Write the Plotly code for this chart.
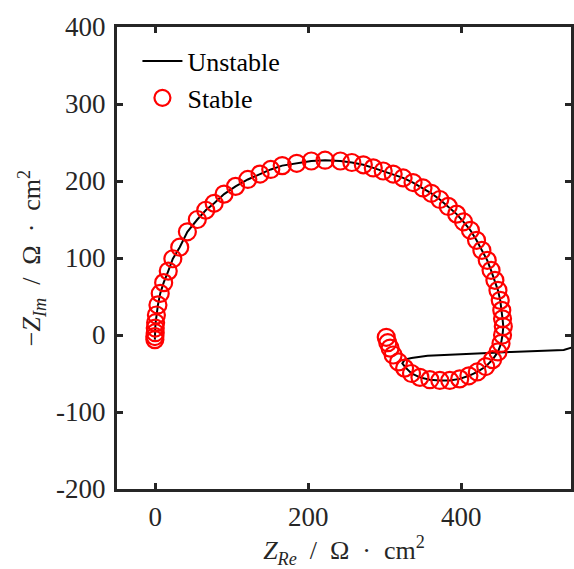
import plotly.graph_objects as go

# Stable (red circles)
stable_re = [-0.5, -0.5, 0, 0, 0.5, 1.5, 3.5, 6.5, 11, 17, 23, 32, 42, 55, 66, 77, 90, 105, 121, 137,
             151, 166, 185, 204, 222, 242, 257, 272, 285, 298, 311, 324, 337, 350, 361, 372, 383, 394, 403, 412,
             420, 427, 434, 439, 444, 448, 451, 453, 454, 455, 454, 452, 448, 441, 432, 421, 410, 398, 385, 372,
             359, 346, 335, 326, 318, 311, 307, 304, 302]
stable_im = [-6, -2, 3, 9, 16, 26, 39, 54, 68, 83, 99, 114, 134, 150, 162, 171, 183, 193, 202, 209,
             215, 220, 223, 226, 227, 226, 224, 221, 217, 213, 209, 204, 198, 191, 184, 176, 167, 157, 147, 136,
             123, 110, 97, 84, 71, 58, 45, 32, 21, 11, 0, -11, -22, -32, -41, -48, -53, -57, -59, -59,
             -58, -55, -50, -43, -35, -26, -17, -10, -3]

# Unstable (black line)
unstable_re = [-0.5, -0.5, 0, 0, 0.5, 1.5, 3.5, 6.5, 11, 17, 23, 32, 42, 55, 66, 77, 90, 105, 121, 137,
               151, 166, 185, 204, 222, 242, 257, 272, 285, 298, 311, 324, 337, 350, 361, 372, 383, 394, 403, 412,
               420, 427, 434, 439, 444, 448, 451, 453, 454, 455, 454, 452, 448, 441, 432, 421, 410, 398, 385, 372,
               359, 346, 335, 327, 323, 326, 335, 356, 390, 421, 465, 508, 534, 545, 560]
unstable_im = [-6, -2, 3, 9, 16, 26, 39, 54, 68, 83, 99, 114, 134, 150, 162, 171, 183, 193, 202, 209,
               215, 220, 223, 226, 227, 226, 224, 221, 217, 213, 209, 204, 198, 191, 184, 176, 167, 157, 147, 136,
               123, 110, 97, 84, 71, 58, 45, 32, 21, 11, 0, -11, -22, -32, -41, -48, -53, -57, -59, -59,
               -58, -55, -50, -42, -37, -32, -30, -27, -25, -24, -22, -21, -19.5, -16, -10]

x_ticks = [0, 200, 400]
x_ticktext = ["0", "200", "400"]
y_ticks = [-200, -100, 0, 100, 200, 300, 400]
y_ticktext = ["-200", "-100", "0", "100", "200", "300", "400"]

FONT = "Liberation Serif"
AX = "#262626"
SP = "\u2002"

x_title = f"<i>Z</i><sub><i>Re</i></sub>{SP}/{SP}Ω{SP}·{SP}cm<sup>2</sup>"
y_title = f"−<i>Z</i><sub><i>Im</i></sub>{SP}/{SP}Ω{SP}·{SP}cm<sup>2</sup>"

fig = go.Figure()
fig.add_trace(go.Scatter(x=unstable_re, y=unstable_im, mode="lines", name="Unstable",
                         line=dict(color="black", width=2)))
fig.add_trace(go.Scatter(x=stable_re, y=stable_im, mode="markers", name="Stable",
                         marker=dict(symbol="circle-open", size=17, color="red",
                                     line=dict(color="red", width=2.2))))

fig.update_layout(
    width=574, height=569,
    margin=dict(l=117, r=0, t=27, b=80),
    paper_bgcolor="white", plot_bgcolor="white",
    font=dict(family=FONT, size=26, color=AX),
    showlegend=True,
    legend=dict(x=0.045, y=0.977, xanchor="left", yanchor="top",
                bgcolor="rgba(0,0,0,0)", font=dict(size=26, color="black"),
                itemwidth=40, tracegroupgap=0),
    xaxis=dict(range=[-50, 543.5], tickvals=x_ticks, ticktext=x_ticktext,
               ticks="inside", ticklen=6, tickwidth=2.5, tickcolor=AX,
               showline=True, linecolor=AX, linewidth=3, mirror="allticks",
               showgrid=False, zeroline=False, ticklabelstandoff=2,
               tickfont=dict(size=27, color=AX),
               title=dict(text=x_title, font=dict(size=26, color=AX), standoff=6)),
    yaxis=dict(range=[-200, 400], tickvals=y_ticks, ticktext=y_ticktext,
               ticks="inside", ticklen=6, tickwidth=2.5, tickcolor=AX,
               showline=True, linecolor=AX, linewidth=3, mirror="ticks",
               showgrid=False, zeroline=False, ticklabelstandoff=3,
               tickfont=dict(size=27, color=AX),
               title=dict(text=y_title, font=dict(size=26, color=AX), standoff=8)),
)

fig.write_html("out.html")
